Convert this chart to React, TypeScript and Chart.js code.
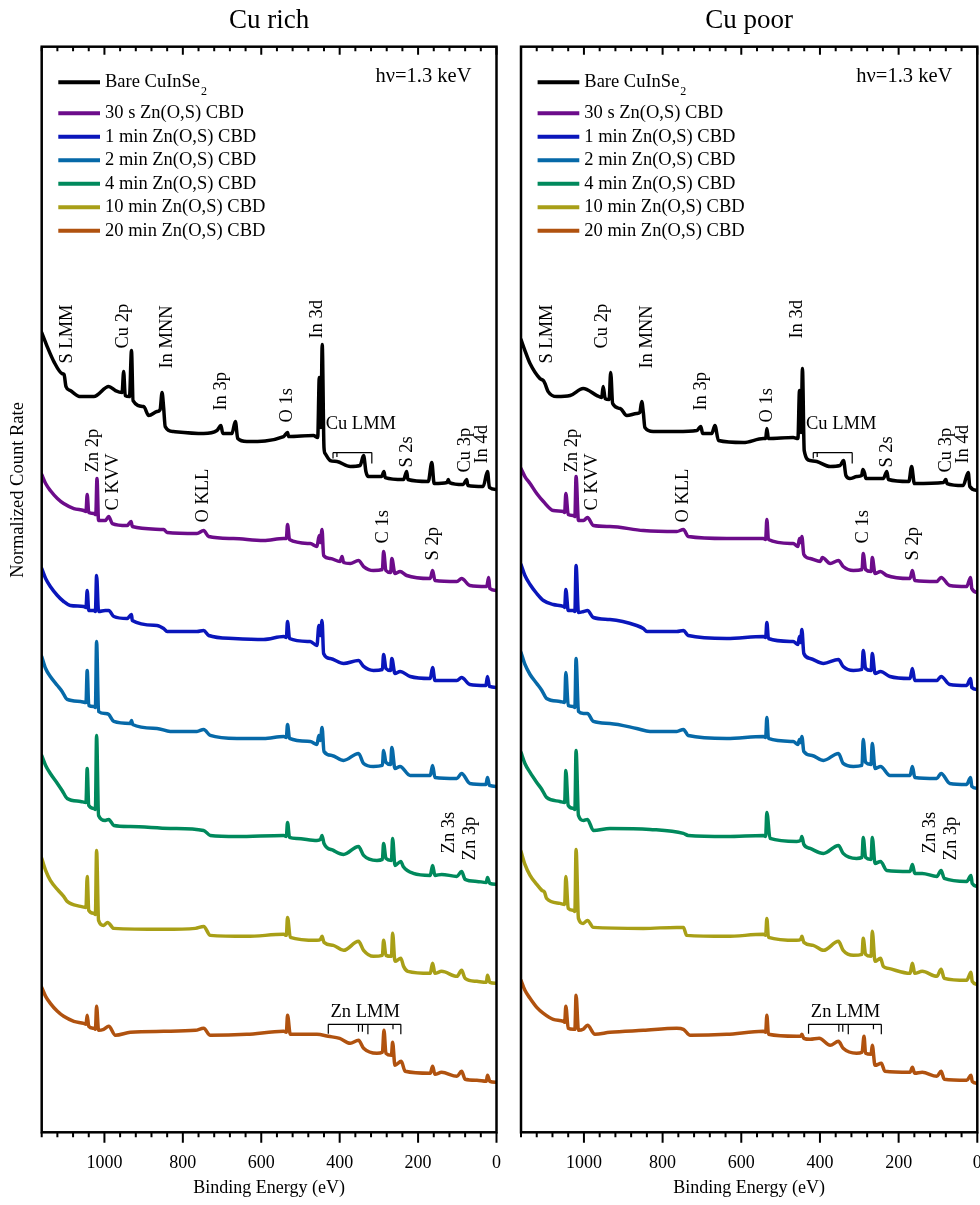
import React, { useEffect, useRef } from 'react';
import { Chart, registerables } from 'chart.js';

Chart.register(...registerables);

type Pt = [number, number];

const FONT = "'Liberation Serif', 'Times New Roman', Times, serif";

const seriesLabels = [
  'Bare CuInSe₂',
  '30 s Zn(O,S) CBD',
  '1 min Zn(O,S) CBD',
  '2 min Zn(O,S) CBD',
  '4 min Zn(O,S) CBD',
  '10 min Zn(O,S) CBD',
  '20 min Zn(O,S) CBD',
];
const seriesColors = ['#000000', '#6c0c8a', '#0a16bb', '#0669a8', '#00895c', '#a89f17', '#b0520f'];

const X_MIN = 0;
const X_MAX = 1160;
const Y_MIN = 0;
const Y_MAX = 108.6;
const xMajorTicks = [1000, 800, 600, 400, 200, 0];
const xMinorStep = 40;

// ---------- Cu rich ----------
const richBare: Pt[] = [[1160,80.0],[1152,79.2],[1146,78.6],[1129,77.1],[1108,75.9],[1103,75.8],[1098,74.6],[1087,74.2],[1061,73.6],[1027,73.6],[989,74.6],[972,74.2],[955,74.0],[951,76.1],[947,73.7],[936,73.6],[931,78.2],[927,73.2],[900,72.6],[887,71.7],[866,72.1],[858,72.3],[853,74.0],[849,72.5],[845,70.6],[824,70.1],[747,69.9],[713,70.2],[703,70.7],[698,69.9],[675,69.9],[666,71.1],[660,69.4],[637,69.1],[543,69.6],[533,70.0],[530,69.6],[467,69.7],[456,69.5],[452,75.5],[448,70.5],[444.5,78.8],[440,68.5],[437,67.9],[424,67.2],[407,67.1],[373,66.6],[348,66.7],[339,67.7],[333,66.1],[327,65.6],[293,65.6],[287,66.1],[284,65.5],[237,65.3],[229,66.1],[226,65.3],[174,65.1],[165,67.0],[159,64.9],[126,65.0],[123,65.3],[120,65.0],[85,64.8],[76,65.3],[73,64.7],[34,64.6],[23,66.1],[18,64.5],[0,64.3]];
const rich30s: Pt[] = [[1160,65.8],[1150,64.9],[1138,64.2],[1120,63.4],[1104,62.9],[1078,62.4],[1053,62.2],[1047,62.1],[1044,63.8],[1040,62.0],[1027,61.9],[1022,61.8],[1019,65.4],[1015,61.2],[998,61.2],[989,61.6],[980,60.9],[942,60.7],[932,61.1],[929,60.6],[849,60.3],[840,60.0],[764,59.9],[747,60.2],[734,59.6],[671,59.4],[594,59.2],[543,59.4],[536,59.4],[533,60.8],[528,59.3],[475,58.9],[458,58.6],[452,59.7],[449,59.0],[445,60.3],[441,57.7],[424,57.4],[399,57.1],[394,57.6],[390,57.0],[373,56.9],[352,57.2],[339,56.6],[314,56.2],[291,56.3],[288,58.1],[282,56.2],[270,56.0],[267,57.4],[259,55.9],[246,56.1],[229,55.7],[169,55.4],[163,56.2],[157,55.2],[101,55.1],[89,55.4],[68,54.7],[25,54.6],[20,55.5],[17,54.4],[0,54.2]];
const rich1m: Pt[] = [[1160,56.4],[1150,55.4],[1138,54.6],[1120,53.7],[1104,53.1],[1087,52.7],[1053,52.6],[1047,52.5],[1044,54.2],[1040,52.2],[1027,52.2],[1023,52.1],[1020,55.7],[1015,52.1],[998,52.2],[989,52.2],[976,51.6],[942,51.4],[931,51.8],[929,51.2],[866,50.7],[849,50.4],[840,50.1],[764,50.1],[747,50.2],[734,49.7],[671,49.4],[594,49.3],[543,49.6],[536,49.5],[533,51.1],[528,49.4],[475,49.1],[458,48.7],[453,50.7],[449,49.7],[445,51.2],[441,47.9],[424,47.4],[390,46.9],[352,47.2],[339,46.6],[314,46.2],[291,46.3],[288,47.8],[282,46.4],[270,46.2],[267,47.4],[259,45.9],[246,46.1],[220,45.6],[169,45.4],[163,46.5],[157,45.2],[101,45.2],[89,45.5],[68,44.8],[27,44.7],[23,45.6],[18,44.6],[0,44.5]];
const rich2m: Pt[] = [[1160,47.6],[1150,46.4],[1138,45.6],[1120,44.7],[1108,44.1],[1095,43.3],[1061,43.1],[1047,43.0],[1044,46.2],[1040,42.7],[1027,42.6],[1023,42.5],[1020,49.1],[1015,42.1],[998,41.9],[989,41.8],[976,41.1],[934,40.9],[931,41.2],[928,40.8],[866,40.4],[832,40.1],[764,40.1],[747,40.3],[730,39.7],[662,39.4],[594,39.4],[543,39.6],[536,39.5],[533,40.8],[528,39.4],[475,39.1],[458,38.8],[453,39.7],[449,39.2],[445,40.5],[440,38.1],[420,37.7],[390,37.2],[352,37.9],[339,36.9],[314,36.6],[291,36.7],[288,38.2],[282,37.0],[270,36.8],[267,38.5],[259,36.4],[246,36.6],[220,35.7],[169,35.7],[163,36.7],[157,35.5],[101,35.4],[89,35.9],[68,34.9],[27,34.8],[23,35.5],[18,34.7],[0,34.6]];
const rich4m: Pt[] = [[1160,37.7],[1150,36.7],[1138,35.9],[1120,34.9],[1108,34.2],[1095,33.4],[1061,33.1],[1047,33.0],[1044,36.4],[1040,32.7],[1027,32.4],[1023,32.3],[1020,39.7],[1015,31.7],[998,31.2],[989,31.3],[976,30.7],[934,30.6],[832,30.4],[747,30.2],[730,29.7],[662,29.6],[543,29.7],[536,29.6],[533,31.0],[528,29.5],[509,29.4],[458,29.2],[449,29.3],[445,29.7],[440,28.9],[416,28.2],[390,27.8],[352,28.6],[339,27.7],[305,27.2],[291,27.3],[288,28.9],[282,27.4],[268,27.2],[265,29.4],[259,26.7],[244,27.1],[238,26.6],[212,25.9],[169,25.7],[163,26.7],[157,25.7],[140,25.8],[101,25.6],[89,26.1],[80,25.3],[50,25.1],[26,25.0],[23,25.5],[17,24.9],[0,24.8]];
const rich10m: Pt[] = [[1160,27.4],[1150,26.2],[1138,25.2],[1120,24.3],[1104,23.6],[1095,23.1],[1061,22.6],[1047,22.5],[1044,25.6],[1040,22.2],[1027,21.9],[1023,21.8],[1020,28.2],[1015,21.2],[1002,20.7],[992,21.0],[976,20.4],[849,20.3],[768,20.4],[747,20.6],[730,19.7],[637,19.6],[543,19.8],[536,19.7],[533,21.5],[526,19.5],[458,19.2],[449,19.3],[445,19.6],[440,19.0],[416,18.7],[390,18.2],[352,19.1],[339,18.2],[314,17.6],[291,17.7],[288,19.2],[282,17.7],[268,17.6],[265,19.9],[259,17.1],[244,17.4],[237,16.6],[226,16.1],[169,15.9],[163,16.9],[157,15.9],[140,16.1],[101,15.6],[89,16.2],[80,15.4],[50,15.1],[26,15.0],[23,15.7],[17,15.0],[0,14.9]];
const rich20m: Pt[] = [[1160,14.5],[1150,13.6],[1138,12.9],[1120,12.1],[1104,11.6],[1078,11.1],[1053,10.9],[1047,10.8],[1044,11.7],[1040,10.6],[1027,10.4],[1023,10.3],[1020,12.6],[1015,10.2],[1002,10.3],[989,10.6],[972,9.7],[934,10.0],[849,10.1],[768,10.2],[747,10.4],[730,9.7],[637,9.8],[543,10.1],[536,10.0],[533,11.7],[526,9.8],[458,9.8],[429,9.6],[400,9.4],[373,8.9],[352,9.2],[339,8.4],[305,7.9],[291,8.0],[287,10.2],[282,7.9],[268,7.7],[265,9.0],[259,6.7],[243,7.1],[233,6.1],[169,5.9],[163,6.6],[157,5.8],[140,6.0],[101,5.6],[89,6.1],[80,5.3],[50,5.2],[26,5.1],[23,5.7],[17,5.1],[0,5.0]];

// ---------- Cu poor ----------
const poorBare: Pt[] = [[1160,79.3],[1150,78.2],[1137,76.9],[1112,75.4],[1103,75.2],[1099,74.9],[1091,74.1],[1069,73.6],[1035,73.7],[1002,74.4],[967,73.7],[955,73.5],[951,74.6],[946,73.4],[936,73.3],[932,76.0],[927,72.9],[908,72.4],[891,71.7],[866,71.9],[858,72.0],[853,73.1],[849,72.0],[845,70.5],[824,70.1],[764,70.1],[713,70.2],[703,70.6],[698,69.9],[675,69.9],[667,70.7],[658,69.2],[595,69.0],[544,69.4],[538,69.4],[535,70.4],[531,69.4],[468,69.5],[456,69.4],[452,74.2],[448,70.0],[444.5,76.4],[440,68.2],[425,67.2],[408,67.1],[374,66.6],[349,66.7],[340,67.2],[334,65.7],[324,65.4],[306,65.6],[294,65.7],[291,66.3],[287,66.0],[283,65.4],[239,65.4],[230,66.1],[226,65.3],[174,65.1],[167,66.6],[160,64.9],[86,65.0],[80,65.3],[77,64.9],[36,64.7],[23,66.0],[19,64.6],[0,64.2]];
const poor30s: Pt[] = [[1160,66.4],[1150,65.6],[1137,64.9],[1120,63.9],[1103,63.1],[1078,62.2],[1052,62.1],[1049,62.0],[1046,63.9],[1040,61.8],[1027,61.7],[1023,61.6],[1020,65.6],[1014,61.2],[1001,61.2],[991,61.5],[976,60.7],[934,60.6],[849,60.2],[764,60.1],[747,60.3],[735,59.6],[637,59.4],[544,59.4],[538,59.3],[535,61.3],[531,59.3],[468,58.9],[456,58.6],[452,59.4],[449,59.0],[446,59.6],[441,57.8],[425,57.4],[399,57.1],[394,57.5],[374,56.9],[353,57.2],[341,56.6],[315,56.2],[293,56.3],[290,57.9],[284,56.3],[270,56.1],[267,57.5],[260,55.9],[246,56.1],[230,55.7],[171,55.4],[165,56.2],[159,55.2],[103,55.1],[92,55.5],[70,54.7],[27,54.6],[17,55.5],[14,54.4],[0,54.0]];
const poor1m: Pt[] = [[1160,56.8],[1150,55.7],[1137,54.8],[1120,53.9],[1103,53.2],[1078,52.8],[1052,52.6],[1049,52.5],[1046,54.3],[1040,52.2],[1027,52.2],[1023,52.1],[1020,56.7],[1014,52.0],[1001,52.1],[991,52.2],[976,51.5],[934,51.3],[866,50.7],[849,50.4],[840,50.1],[764,50.1],[747,50.2],[735,49.7],[637,49.4],[544,49.6],[538,49.5],[535,51.0],[531,49.4],[468,49.1],[456,48.8],[452,49.6],[449,49.0],[446,50.3],[441,47.9],[425,47.4],[391,46.9],[353,47.3],[341,46.6],[315,46.2],[293,46.3],[290,48.2],[284,46.4],[270,46.2],[267,47.9],[260,45.9],[246,46.1],[222,45.6],[171,45.4],[165,46.4],[159,45.2],[103,45.2],[92,45.6],[70,44.8],[27,44.7],[17,45.4],[14,44.5],[0,44.3]];
const poor2m: Pt[] = [[1160,48.0],[1150,46.8],[1137,45.8],[1120,44.9],[1107,44.2],[1095,43.4],[1061,43.1],[1049,43.0],[1046,46.0],[1040,42.7],[1027,42.6],[1023,42.5],[1020,47.4],[1014,42.1],[1001,41.9],[991,41.9],[976,41.1],[934,40.9],[866,40.4],[832,40.1],[764,40.1],[747,40.3],[735,39.7],[637,39.4],[544,39.6],[538,39.5],[535,41.5],[531,39.4],[468,39.1],[456,38.8],[452,39.3],[449,39.0],[446,39.6],[441,38.1],[420,37.7],[391,37.2],[353,37.9],[341,36.9],[315,36.6],[293,36.7],[290,39.3],[284,37.0],[270,36.8],[267,38.9],[260,36.4],[246,36.6],[222,35.7],[171,35.7],[165,36.6],[159,35.5],[103,35.4],[92,35.9],[70,34.9],[27,34.8],[17,35.5],[14,34.6],[0,34.4]];
const poor4m: Pt[] = [[1160,38.0],[1150,36.9],[1137,36.0],[1120,35.0],[1107,34.3],[1095,33.5],[1061,33.1],[1049,33.0],[1046,36.2],[1040,32.7],[1027,32.4],[1023,32.3],[1020,38.2],[1014,31.7],[1001,31.2],[991,31.3],[976,30.2],[934,30.4],[832,30.3],[747,29.9],[735,29.7],[637,29.6],[544,29.7],[538,29.6],[535,32.0],[527,29.4],[459,29.1],[449,29.2],[446,29.6],[441,28.8],[425,28.4],[391,27.9],[353,28.7],[341,27.9],[307,27.4],[293,27.5],[290,29.5],[284,27.5],[270,27.3],[267,29.5],[260,26.9],[246,27.1],[230,26.2],[171,26.1],[165,26.8],[159,25.9],[140,25.9],[103,25.6],[92,26.2],[84,25.4],[27,25.1],[16,25.7],[13,24.9],[0,24.6]];
const poor10m: Pt[] = [[1160,28.1],[1150,26.8],[1137,25.7],[1120,24.8],[1107,24.2],[1100,24.0],[1095,23.4],[1061,22.9],[1049,22.8],[1046,25.6],[1040,22.4],[1027,22.2],[1023,22.1],[1020,28.3],[1014,21.4],[1002,20.9],[991,21.2],[976,20.5],[849,20.4],[764,20.5],[747,20.5],[739,19.7],[637,19.6],[544,19.8],[538,19.7],[535,21.4],[531,19.5],[459,19.2],[449,19.3],[446,19.6],[441,19.0],[417,18.7],[391,18.2],[353,19.1],[341,18.2],[315,17.7],[293,17.8],[290,19.4],[284,17.8],[270,17.6],[267,20.1],[260,17.1],[246,17.4],[239,16.6],[226,16.4],[171,15.9],[165,16.9],[159,15.9],[140,16.1],[103,15.6],[92,16.3],[84,15.4],[27,15.2],[16,16.0],[13,15.1],[0,14.8]];
const poor20m: Pt[] = [[1160,15.2],[1150,14.2],[1137,13.4],[1120,12.5],[1103,11.9],[1078,11.3],[1052,11.1],[1049,11.0],[1046,12.6],[1040,10.4],[1027,10.3],[1023,10.3],[1020,13.7],[1014,10.2],[1002,10.3],[991,10.7],[972,9.8],[934,10.0],[849,10.2],[764,10.4],[747,10.3],[730,9.7],[637,9.8],[544,10.1],[538,10.0],[535,11.7],[531,9.8],[459,9.6],[449,9.6],[446,9.8],[441,9.4],[425,9.3],[402,9.4],[374,8.7],[353,9.1],[341,8.4],[307,7.9],[293,8.0],[288,9.6],[284,7.9],[270,7.8],[267,8.7],[260,6.7],[244,6.9],[235,6.1],[171,6.0],[165,6.5],[159,5.9],[140,6.0],[103,5.6],[92,6.1],[84,5.3],[27,5.2],[16,5.7],[13,5.1],[0,4.9]];

// ---------- annotations (binding energy, stacked value) ----------
type Label = [string, number, number];
const peakLabels: Label[] = [
  ['S LMM', 1094, 76.9],
  ['Cu 2p', 953, 78.4],
  ['In MNN', 840, 76.4],
  ['In 3p', 703, 72.2],
  ['O 1s', 535, 71.0],
  ['In 3d', 457, 79.4],
  ['S 2s', 229, 66.5],
  ['Cu 3p', 79, 66.0],
  ['In 4d', 36, 66.9],
  ['Zn 2p', 1029, 66.0],
  ['C KVV', 978, 62.2],
  ['O KLL', 749, 61.0],
  ['C 1s', 289, 58.9],
  ['S 2p', 162, 57.2],
  ['Zn 3s', 121, 27.9],
  ['Zn 3p', 67, 27.2],
];
const groupLabels: Label[] = [
  ['Cu LMM', 346, 70.4],
  ['Zn LMM', 335, 11.5],
];
type Bracket = { from: number; to: number; level: number; marks: [number, number][] };
const brackets: Bracket[] = [
  { from: 417, to: 318, level: 68.0, marks: [[417, 0.6], [407, 0.45], [318, 1.1]] },
  { from: 429, to: 244, level: 10.8, marks: [[429, 0.95], [352, 0.75], [342, 0.75], [328, 1.0], [264, 0.5], [244, 1.0]] },
];

type Panel = {
  title: string;
  series: Pt[][];
  canvasWidth: number;
  padLeft: number;
  padRight: number;
  yTitle: boolean;
};

const richPanel: Panel = {
  title: 'Cu rich',
  series: [richBare, rich30s, rich1m, rich2m, rich4m, rich10m, rich20m],
  canvasWidth: 505,
  padLeft: 41.7,
  padRight: 8.5,
  yTitle: true,
};
const poorPanel: Panel = {
  title: 'Cu poor',
  series: [poorBare, poor30s, poor1m, poor2m, poor4m, poor10m, poor20m],
  canvasWidth: 475,
  padLeft: 16,
  padRight: 2.7,
  yTitle: false,
};

function decorPlugin(panel: Panel) {
  return {
    id: 'decor',
    afterDraw(chart: any) {
      const { ctx, chartArea: a } = chart;
      const xs = chart.scales.x;
      const ys = chart.scales.y;
      const X = (e: number) => xs.getPixelForValue(e);
      const Y = (v: number) => ys.getPixelForValue(v);
      ctx.save();
      ctx.fillStyle = '#000';
      ctx.strokeStyle = '#000';
      ctx.lineCap = 'butt';

      // tick marks
      ctx.lineWidth = 2;
      for (let e = X_MIN; e <= X_MAX; e += xMinorStep) {
        const px = X(e);
        const major = xMajorTicks.includes(e);
        ctx.beginPath();
        ctx.moveTo(px, a.bottom);
        ctx.lineTo(px, a.bottom + (major ? 10.5 : 5));
        ctx.moveTo(px, a.top);
        ctx.lineTo(px, a.top + (major ? 8 : 4.5));
        ctx.stroke();
      }
      // frame
      ctx.lineWidth = 2.5;
      ctx.strokeRect(a.left, a.top, a.right - a.left, a.bottom - a.top);

      // panel title
      ctx.font = `27px ${FONT}`;
      ctx.textAlign = 'center';
      ctx.textBaseline = 'alphabetic';
      ctx.fillText(panel.title, (a.left + a.right) / 2, 28);

      // y title
      if (panel.yTitle) {
        ctx.save();
        ctx.font = `18.5px ${FONT}`;
        ctx.translate(18, 490);
        ctx.rotate(-Math.PI / 2);
        ctx.textAlign = 'center';
        ctx.textBaseline = 'middle';
        ctx.fillText('Normalized Count Rate', 0, 0);
        ctx.restore();
      }

      // photon energy
      ctx.font = `20.5px ${FONT}`;
      ctx.textAlign = 'right';
      ctx.textBaseline = 'alphabetic';
      ctx.fillText('hν=1.3 keV', a.right - 25, a.top + 35);

      // legend
      const lx0 = a.left + 16.6;
      const lx1 = a.left + 58.3;
      const tx = a.left + 63.3;
      chart.data.datasets.forEach((ds: any, i: number) => {
        const ly = a.top + (i === 0 ? 35.6 : 66.6 + (i - 1) * 23.5);
        ctx.strokeStyle = ds.borderColor;
        ctx.lineWidth = 4;
        ctx.beginPath();
        ctx.moveTo(lx0, ly);
        ctx.lineTo(lx1, ly);
        ctx.stroke();
        ctx.fillStyle = '#000';
        ctx.font = `18.5px ${FONT}`;
        ctx.textAlign = 'left';
        ctx.textBaseline = 'middle';
        const label: string = ds.label;
        if (label.endsWith('₂')) {
          const main = label.slice(0, -1);
          ctx.fillText(main, tx, ly);
          const w = ctx.measureText(main).width;
          ctx.font = `12px ${FONT}`;
          ctx.fillText('2', tx + w + 1, ly + 10);
        } else {
          ctx.fillText(label, tx, ly);
        }
      });

      // peak labels (rotated)
      ctx.fillStyle = '#000';
      ctx.strokeStyle = '#000';
      ctx.font = `18.5px ${FONT}`;
      peakLabels.forEach(([text, e, v]) => {
        ctx.save();
        ctx.translate(X(e), Y(v));
        ctx.rotate(-Math.PI / 2);
        ctx.textAlign = 'left';
        ctx.textBaseline = 'middle';
        ctx.fillText(text, 0, 0);
        ctx.restore();
      });
      // group labels
      ctx.textAlign = 'center';
      ctx.textBaseline = 'alphabetic';
      groupLabels.forEach(([text, e, v]) => {
        ctx.fillText(text, X(e), Y(v));
      });
      // brackets
      ctx.lineWidth = 1.2;
      brackets.forEach((b) => {
        const ly = Y(b.level);
        ctx.beginPath();
        ctx.moveTo(X(b.from), ly);
        ctx.lineTo(X(b.to), ly);
        b.marks.forEach(([e, len]) => {
          ctx.moveTo(X(e), ly);
          ctx.lineTo(X(e), Y(b.level - len));
        });
        ctx.stroke();
      });
      ctx.restore();
    },
  };
}

function makeChart(canvas: HTMLCanvasElement, panel: Panel) {
  return new Chart(canvas, {
    type: 'line',
    data: {
      datasets: panel.series.map((pts, i) => ({
        label: seriesLabels[i],
        data: pts.map(([x, y]) => ({ x, y })),
        borderColor: seriesColors[i],
        backgroundColor: seriesColors[i],
        borderWidth: 3.5,
        pointRadius: 0,
        cubicInterpolationMode: 'monotone',
        fill: false,
        borderJoinStyle: 'round',
        borderCapStyle: 'round',
      })),
    },
    options: {
      animation: false,
      responsive: false,
      events: [],
      layout: { padding: { left: panel.padLeft, right: panel.padRight, top: 46.7, bottom: 0 } },
      plugins: {
        legend: { display: false },
        tooltip: { enabled: false },
        title: { display: false },
      },
      scales: {
        x: {
          type: 'linear',
          min: X_MIN,
          max: X_MAX,
          reverse: true,
          afterBuildTicks: (scale: any) => {
            scale.ticks = xMajorTicks.map((v) => ({ value: v }));
          },
          afterFit: (scale: any) => {
            scale.height = 72.7;
            scale.paddingLeft = 0;
            scale.paddingRight = 0;
          },
          ticks: {
            autoSkip: false,
            maxRotation: 0,
            minRotation: 0,
            padding: 12,
            color: '#000',
            font: { family: FONT, size: 18 },
            callback: (v: any) => String(v),
          },
          grid: { display: false },
          border: { display: false },
          title: {
            display: true,
            text: 'Binding Energy (eV)',
            color: '#000',
            font: { family: FONT, size: 18 },
            padding: { top: 0, bottom: 6 },
          },
        },
        y: {
          type: 'linear',
          min: Y_MIN,
          max: Y_MAX,
          display: false,
        },
      },
    } as any,
    plugins: [decorPlugin(panel)],
  });
}

export default function App() {
  const leftRef = useRef<HTMLCanvasElement>(null);
  const rightRef = useRef<HTMLCanvasElement>(null);
  useEffect(() => {
    const charts = [
      makeChart(leftRef.current!, richPanel),
      makeChart(rightRef.current!, poorPanel),
    ];
    return () => charts.forEach((c) => c.destroy());
  }, []);
  return (
    <div style={{ position: 'absolute', left: 0, top: 0, width: 980, height: 1205, background: '#fff', overflow: 'hidden' }}>
      <canvas ref={leftRef} width={richPanel.canvasWidth} height={1205} style={{ position: 'absolute', left: 0, top: 0 }} />
      <canvas ref={rightRef} width={poorPanel.canvasWidth} height={1205} style={{ position: 'absolute', left: 505, top: 0 }} />
    </div>
  );
}
